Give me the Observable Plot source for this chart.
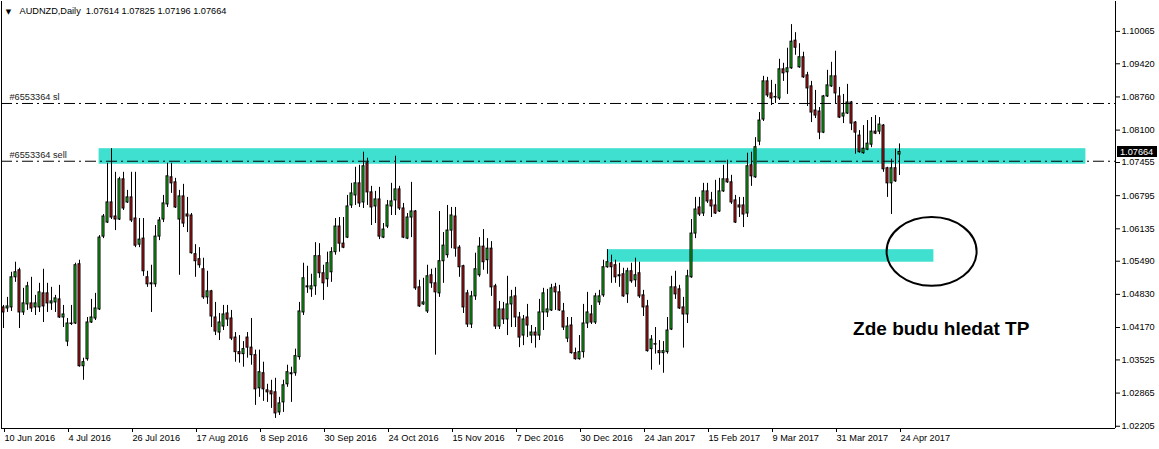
<!DOCTYPE html>
<html><head><meta charset="utf-8">
<script src="https://cdn.jsdelivr.net/npm/d3@7"></script>
<script src="https://cdn.jsdelivr.net/npm/@observablehq/plot@0.6"></script>
<style>html,body{margin:0;padding:0;background:#fff;}#chart{width:1159px;height:449px;overflow:hidden;}</style>
</head><body><div id="chart"></div>
<script>
// AUDNZD daily candles, bar index 0 = 10 Jun 2016
const openP = [
1.0457,1.0455,1.0457,1.0517,1.0531,1.0447,1.0463,1.0465,1.0457,1.0457,
1.0485,1.0485,1.0465,1.0467,1.0473,1.0437,1.0389,1.0424,1.0425,1.0543,
1.0340,1.0354,1.0427,1.0435,1.0453,1.0598,1.0626,1.0666,1.0638,1.0632,
1.0712,1.0666,1.0676,1.0634,1.0582,1.0594,1.0517,1.0505,1.0503,1.0598,
1.0632,1.0662,1.0716,1.0706,1.0632,1.0678,1.0642,1.0640,1.0563,1.0553,
1.0533,1.0477,1.0489,1.0437,1.0407,1.0419,1.0445,1.0435,1.0397,1.0368,
1.0364,1.0397,1.0377,1.0362,1.0296,1.0326,1.0292,1.0290,1.0288,1.0248,
1.0268,1.0304,1.0326,1.0326,1.0358,1.0447,1.0497,1.0493,1.0499,1.0559,
1.0525,1.0513,1.0527,1.0567,1.0618,1.0584,1.0596,1.0660,1.0680,1.0704,
1.0666,1.0744,1.0686,1.0658,1.0672,1.0596,1.0618,1.0658,1.0670,1.0692,
1.0654,1.0594,1.0636,1.0648,1.0497,1.0463,1.0449,1.0521,1.0505,1.0485,
1.0549,1.0561,1.0610,1.0638,1.0576,1.0539,1.0485,1.0423,1.0479,1.0521,
1.0578,1.0551,1.0574,1.0499,1.0419,1.0453,1.0433,1.0463,1.0479,1.0437,
1.0401,1.0437,1.0401,1.0407,1.0401,1.0447,1.0447,1.0451,1.0497,1.0487,
1.0449,1.0395,1.0421,1.0366,1.0354,1.0368,1.0425,1.0443,1.0427,1.0467,
1.0481,1.0537,1.0545,1.0541,1.0521,1.0523,1.0483,1.0529,1.0511,1.0525,
1.0481,1.0459,1.0374,1.0383,1.0370,1.0366,1.0368,1.0413,1.0497,1.0493,
1.0457,1.0443,1.0517,1.0604,1.0656,1.0644,1.0688,1.0670,1.0660,1.0648,
1.0688,1.0712,1.0706,1.0670,1.0660,1.0660,1.0644,1.0740,1.0716,1.0787,
1.0831,1.0907,1.0883,1.0875,1.0873,1.0931,1.0925,1.0933,1.0988,1.0935,
1.0955,1.0919,1.0897,1.0849,1.0847,1.0805,1.0877,1.0897,1.0917,1.0877,
1.0837,1.0843,1.0865,1.0825,1.0799,1.0764,1.0771,1.0781,1.0807,1.0807,
1.0819,1.0734,1.0704,1.0734,1.07614];
const highP = [
1.0461,1.0477,1.0527,1.0547,1.0535,1.0495,1.0507,1.0517,1.0481,1.0505,
1.0533,1.0505,1.0497,1.0481,1.0501,1.0461,1.0435,1.0461,1.0545,1.0551,
1.0356,1.0437,1.0473,1.0485,1.0600,1.0642,1.0744,1.0773,1.0726,1.0716,
1.0726,1.0690,1.0726,1.0726,1.0634,1.0634,1.0529,1.0541,1.0620,1.0636,
1.0680,1.0744,1.0744,1.0714,1.0690,1.0702,1.0676,1.0644,1.0582,1.0576,
1.0555,1.0529,1.0491,1.0467,1.0445,1.0461,1.0461,1.0451,1.0407,1.0401,
1.0389,1.0407,1.0435,1.0372,1.0372,1.0348,1.0304,1.0312,1.0316,1.0278,
1.0312,1.0342,1.0338,1.0374,1.0467,1.0545,1.0539,1.0523,1.0586,1.0584,
1.0541,1.0567,1.0576,1.0634,1.0636,1.0636,1.0680,1.0704,1.0736,1.0740,
1.0766,1.0754,1.0698,1.0688,1.0696,1.0624,1.0670,1.0704,1.0758,1.0698,
1.0664,1.0644,1.0706,1.0650,1.0511,1.0515,1.0541,1.0533,1.0535,1.0648,
1.0606,1.0660,1.0656,1.0656,1.0580,1.0541,1.0491,1.0489,1.0565,1.0596,
1.0612,1.0594,1.0588,1.0503,1.0469,1.0467,1.0519,1.0491,1.0497,1.0447,
1.0441,1.0463,1.0421,1.0417,1.0473,1.0495,1.0493,1.0503,1.0505,1.0501,
1.0465,1.0437,1.0437,1.0376,1.0401,1.0463,1.0487,1.0461,1.0485,1.0491,
1.0551,1.0572,1.0561,1.0551,1.0545,1.0535,1.0535,1.0545,1.0555,1.0547,
1.0491,1.0471,1.0401,1.0417,1.0391,1.0389,1.0437,1.0519,1.0529,1.0501,
1.0477,1.0531,1.0632,1.0676,1.0676,1.0704,1.0704,1.0686,1.0710,1.0714,
1.0740,1.0750,1.0720,1.0680,1.0676,1.0676,1.0764,1.0766,1.0795,1.0845,
1.0917,1.0915,1.0909,1.0901,1.0951,1.0943,1.0973,1.1020,1.1004,1.0982,
1.0965,1.0925,1.0907,1.0889,1.0855,1.0879,1.0929,1.0945,1.0967,1.0895,
1.0881,1.0901,1.0867,1.0827,1.0809,1.0819,1.0829,1.0835,1.0839,1.0835,
1.0821,1.0736,1.0752,1.0772,1.07825];
const lowP = [
1.0415,1.0447,1.0449,1.0507,1.0415,1.0441,1.0451,1.0447,1.0441,1.0447,
1.0427,1.0447,1.0451,1.0447,1.0435,1.0417,1.0379,1.0421,1.0423,1.0338,
1.0312,1.0350,1.0425,1.0431,1.0451,1.0594,1.0624,1.0632,1.0610,1.0630,
1.0650,1.0664,1.0626,1.0576,1.0576,1.0519,1.0497,1.0447,1.0497,1.0590,
1.0626,1.0656,1.0684,1.0654,1.0521,1.0616,1.0606,1.0563,1.0517,1.0535,
1.0473,1.0463,1.0417,1.0401,1.0391,1.0411,1.0419,1.0391,1.0348,1.0346,
1.0338,1.0356,1.0342,1.0262,1.0278,1.0270,1.0268,1.0256,1.0236,1.0242,
1.0248,1.0298,1.0268,1.0320,1.0352,1.0441,1.0485,1.0477,1.0481,1.0515,
1.0471,1.0497,1.0507,1.0561,1.0567,1.0574,1.0594,1.0654,1.0660,1.0656,
1.0654,1.0660,1.0620,1.0624,1.0592,1.0594,1.0614,1.0640,1.0640,1.0650,
1.0594,1.0592,1.0596,1.0491,1.0457,1.0461,1.0445,1.0495,1.0362,1.0477,
1.0505,1.0555,1.0574,1.0557,1.0517,1.0445,1.0417,1.0415,1.0471,1.0517,
1.0531,1.0523,1.0479,1.0413,1.0413,1.0423,1.0401,1.0417,1.0417,1.0377,
1.0381,1.0397,1.0385,1.0376,1.0391,1.0411,1.0437,1.0449,1.0451,1.0449,
1.0411,1.0387,1.0364,1.0352,1.0352,1.0356,1.0415,1.0423,1.0423,1.0461,
1.0477,1.0535,1.0505,1.0505,1.0497,1.0477,1.0465,1.0505,1.0497,1.0475,
1.0439,1.0368,1.0332,1.0364,1.0342,1.0326,1.0364,1.0411,1.0473,1.0453,
1.0376,1.0425,1.0515,1.0594,1.0638,1.0638,1.0664,1.0636,1.0642,1.0646,
1.0686,1.0704,1.0662,1.0624,1.0636,1.0616,1.0636,1.0698,1.0714,1.0779,
1.0827,1.0875,1.0859,1.0863,1.0869,1.0907,1.0881,1.0931,1.0959,1.0933,
1.0913,1.0857,1.0825,1.0833,1.0791,1.0803,1.0875,1.0895,1.0863,1.0833,
1.0823,1.0841,1.0809,1.0762,1.0764,1.0762,1.0769,1.0775,1.0801,1.0801,
1.0726,1.0676,1.0642,1.0706,1.07196];
const closeP = [
1.0447,1.0459,1.0517,1.0527,1.0447,1.0465,1.0499,1.0455,1.0465,1.0487,
1.0459,1.0465,1.0469,1.0475,1.0437,1.0443,1.0425,1.0425,1.0541,1.0340,
1.0348,1.0427,1.0437,1.0455,1.0596,1.0638,1.0666,1.0636,1.0632,1.0712,
1.0654,1.0676,1.0630,1.0580,1.0592,1.0529,1.0503,1.0503,1.0598,1.0630,
1.0664,1.0718,1.0704,1.0656,1.0678,1.0624,1.0638,1.0565,1.0549,1.0541,
1.0477,1.0489,1.0439,1.0409,1.0427,1.0443,1.0433,1.0395,1.0368,1.0364,
1.0374,1.0377,1.0362,1.0294,1.0328,1.0294,1.0288,1.0284,1.0246,1.0266,
1.0302,1.0328,1.0324,1.0360,1.0449,1.0515,1.0499,1.0499,1.0559,1.0525,
1.0505,1.0545,1.0567,1.0618,1.0584,1.0576,1.0658,1.0684,1.0704,1.0664,
1.0738,1.0686,1.0656,1.0672,1.0598,1.0612,1.0660,1.0668,1.0692,1.0654,
1.0596,1.0636,1.0648,1.0495,1.0459,1.0467,1.0519,1.0505,1.0487,1.0549,
1.0580,1.0610,1.0640,1.0574,1.0537,1.0457,1.0423,1.0479,1.0533,1.0578,
1.0547,1.0574,1.0497,1.0419,1.0453,1.0433,1.0463,1.0477,1.0437,1.0397,
1.0433,1.0421,1.0407,1.0401,1.0447,1.0485,1.0453,1.0495,1.0487,1.0451,
1.0417,1.0419,1.0366,1.0354,1.0368,1.0425,1.0447,1.0427,1.0479,1.0479,
1.0537,1.0547,1.0537,1.0517,1.0519,1.0479,1.0529,1.0509,1.0521,1.0479,
1.0457,1.0370,1.0393,1.0384,1.0366,1.0370,1.0411,1.0497,1.0483,1.0455,
1.0443,1.0519,1.0604,1.0652,1.0642,1.0688,1.0668,1.0658,1.0644,1.0688,
1.0712,1.0706,1.0666,1.0626,1.0656,1.0642,1.0738,1.0718,1.0776,1.0829,
1.0907,1.0879,1.0873,1.0876,1.0931,1.0923,1.0933,1.0986,1.0974,1.0955,
1.0915,1.0893,1.0845,1.0839,1.0805,1.0877,1.0899,1.0917,1.0883,1.0835,
1.0843,1.0865,1.0823,1.0805,1.0766,1.0773,1.0783,1.0807,1.0803,1.0821,
1.0732,1.0704,1.0734,1.0708,1.07664];

const tickBars = [0,16,32,48,64,80,96,112,128,144,160,176,192,208,224];
const tickLabels = ["10 Jun 2016","4 Jul 2016","26 Jul 2016","17 Aug 2016","8 Sep 2016","30 Sep 2016","24 Oct 2016","15 Nov 2016","7 Dec 2016","30 Dec 2016","24 Jan 2017","15 Feb 2017","9 Mar 2017","31 Mar 2017","24 Apr 2017"];
const yTicks = [1.10065,1.09420,1.08760,1.08100,1.07455,1.06795,1.06135,1.05490,1.04830,1.04170,1.03525,1.02865,1.02205];

const orderLines = [{price:1.0863,label:"#6553364 sl"},{price:1.0748,label:"#6553364 sell"}];
const zoneX1 = [23.9,150.95], zoneX2 = [270.6,232.6], zoneTop = [1.0773,1.0572], zoneBottom = [1.0742,1.0547];
const ellipseBox = {x1:220.9,x2:243.4,top:1.0636,bottom:1.0499};
const noteText = "Zde budu hledat TP", noteX = 212.4, noteY = 1.0415;
const headerText = "AUDNZD,Daily\u00a0\u00a01.07614 1.07825 1.07196 1.07664";
const lastPrice = 1.07664;

const candles = openP.map((o,i)=>({i,o,h:highP[i],l:lowP[i],c:closeP[i]}));
const up = candles.filter(d=>d.c>=d.o), down = candles.filter(d=>d.c<d.o);
const zones = zoneX1.map((x,k)=>({x1:x,x2:zoneX2[k],y1:zoneBottom[k],y2:zoneTop[k]}));
const GREEN = "#1ed21e", RED = "#d21c1c";
const FONT = "'Liberation Sans', Arial, sans-serif";

const plot = Plot.plot({
  width:1159, height:449,
  marginTop:1, marginBottom:21, marginLeft:1, marginRight:44,
  x:{domain:[-0.5,278]},
  y:{domain:[1.0216,1.1066]},
  style:{fontFamily:FONT, fontSize:"9.2px", color:"#000", background:"#fff", overflow:"visible"},
  marks:[
    Plot.rect(zones,{x1:"x1",x2:"x2",y1:"y1",y2:"y2",fill:"#40E0D0"}),
    Plot.ruleX(candles,{x:"i",y1:"l",y2:"h",stroke:"#000",strokeWidth:1}),
    Plot.rect(up,{x1:d=>d.i-0.25,x2:d=>d.i+0.25,y1:"o",y2:"c",fill:GREEN,stroke:"#000",strokeWidth:1}),
    Plot.rect(down,{x1:d=>d.i-0.25,x2:d=>d.i+0.25,y1:"o",y2:"c",fill:RED,stroke:"#000",strokeWidth:1}),
    Plot.ruleY(orderLines,{y:"price",stroke:"#000",strokeWidth:1,strokeDasharray:"11,4,2,4"}),
    Plot.text(orderLines,{y:"price",text:"label",frameAnchor:"left",dx:8,dy:-6,textAnchor:"start",fill:"#222"}),
    Plot.text([headerText],{frameAnchor:"top-left",dx:18,dy:9.5,lineAnchor:"middle",textAnchor:"start"}),
    Plot.text(["\u25BC"],{frameAnchor:"top-left",dx:7,dy:10,lineAnchor:"middle",textAnchor:"middle",fontSize:7,fontFamily:"DejaVu Sans"}),
    Plot.text([noteText],{x:()=>noteX,y:()=>noteY,textAnchor:"start",fontSize:19,fontWeight:"bold",fontFamily:FONT}),
    Plot.axisX({ticks:tickBars,tickFormat:d=>tickLabels[tickBars.indexOf(d)],tickSize:4,tickPadding:2,textAnchor:"start",dx:1}),
    Plot.axisY({anchor:"right",ticks:yTicks,tickFormat:d=>d.toFixed(5),tickSize:4,tickPadding:2}),
    Plot.ruleX([-0.5,278],{stroke:"#000"}),
    Plot.ruleY([1.0216],{stroke:"#000"})
  ]
});
document.getElementById("chart").appendChild(plot);

// ellipse and current price tag placed through the plot's scales
const sx = plot.scale("x"), sy = plot.scale("y");
const svg = d3.select(plot);
const ex1 = sx.apply(ellipseBox.x1), ex2 = sx.apply(ellipseBox.x2);
const ey1 = sy.apply(ellipseBox.top), ey2 = sy.apply(ellipseBox.bottom);
svg.append("ellipse").attr("cx",(ex1+ex2)/2).attr("cy",(ey1+ey2)/2)
  .attr("rx",(ex2-ex1)/2).attr("ry",(ey2-ey1)/2)
  .attr("fill","none").attr("stroke","#000").attr("stroke-width",2);
const py = sy.apply(lastPrice), px = sx.apply(278);
const tag = svg.append("g");
tag.append("rect").attr("x",px+2).attr("y",py-5.5).attr("width",40).attr("height",11).attr("fill","#000");
tag.append("text").attr("x",px+5).attr("y",py).attr("dy","0.34em").attr("fill","#fff")
  .attr("text-anchor","start").attr("font-family",FONT).attr("font-size","9.2px").text(lastPrice.toFixed(5));
</script>
</body></html>
